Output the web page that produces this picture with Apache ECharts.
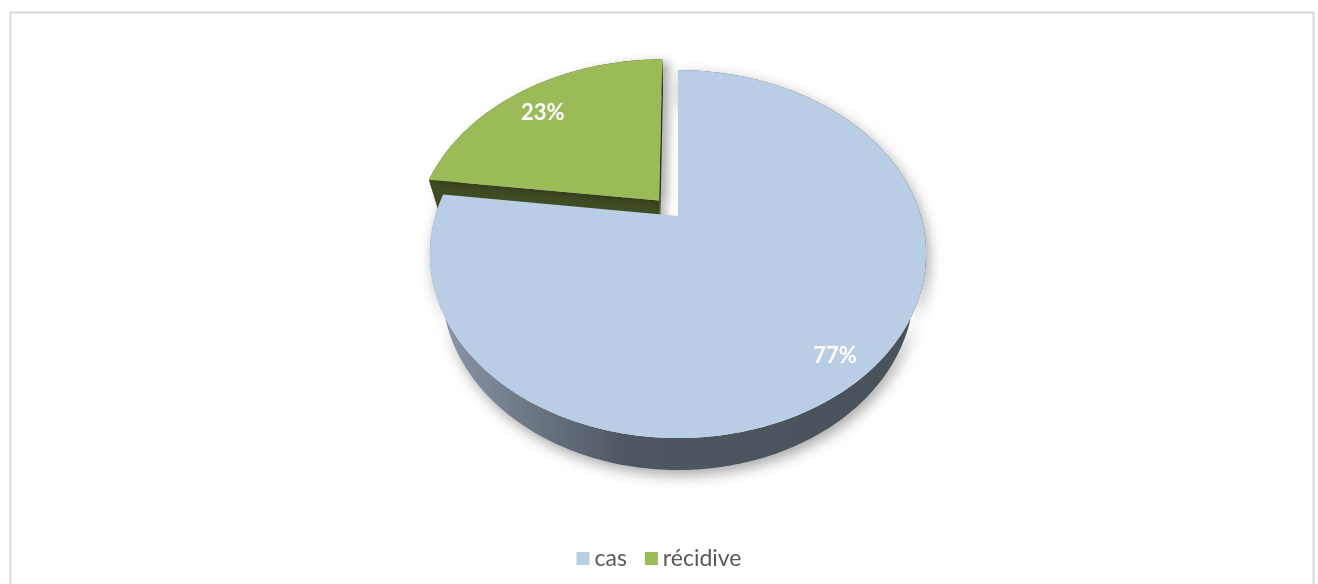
<!DOCTYPE html>
<html><head><meta charset="utf-8">
<script src="https://cdn.jsdelivr.net/npm/echarts@6/dist/echarts.min.js"></script>
<style>html,body{margin:0;padding:0;background:#fff;}#chart{width:1318px;height:584px;}</style>
</head><body><div id="chart"></div>
<script>
// ---- data ----
const categories = ['cas', 'récidive'];
const values = [77, 23];

// ---- styling / view config ----
const topColors = ['#B9CDE5', '#9BBB59'];
const EXPLODE = [0, 0.12];
const LABEL_R = 0.86;
const LABEL_DROP = 0.25;
const VIEW = { tilt: 46.5, dist: 3.332, height: 0.227, scale: 1.385, cx: 0.5144, cy: 0.37 };

function project(X, Y, Z, W, H) {
  const a = VIEW.tilt * Math.PI / 180, s = Math.sin(a), c = Math.cos(a);
  const yc = Y * c - Z * s;
  const zc = VIEW.dist - (Z * c + Y * s);
  const S = VIEW.scale * H;
  return [W * VIEW.cx + S * X / zc, H * VIEW.cy - S * yc / zc];
}

function wallFill(i, W, H) {
  const x0 = W * VIEW.cx - 0.43 * H, x1 = W * VIEW.cx + 0.43 * H;
  if (i === 0) {
    return new echarts.graphic.LinearGradient(x0, 0, x1, 0, [
      { offset: 0, color: '#8F9CAE' },
      { offset: 0.22, color: '#6A7582' },
      { offset: 0.4, color: '#4E5661' },
      { offset: 1, color: '#495159' }
    ], true);
  }
  return '#3F4D23';
}

function renderSlice(params, api) {
  const i = params.seriesIndex;
  const W = api.getWidth(), H = api.getHeight();
  const total = values.reduce((a, b) => a + b, 0);
  const before = values.slice(0, i).reduce((a, b) => a + b, 0);
  const v = api.value(0);
  const a0 = before / total * 2 * Math.PI, a1 = (before + v) / total * 2 * Math.PI;
  const mid = (a0 + a1) / 2, ex = EXPLODE[i];
  const ox = ex * Math.sin(mid), oz = -ex * Math.cos(mid);
  const h = VIEW.height;
  const ta = VIEW.tilt * Math.PI / 180;
  const cam = [0, VIEW.dist * Math.sin(ta), VIEW.dist * Math.cos(ta)];
  const pt = (r, th, y) => project(ox + r * Math.sin(th), y, oz - r * Math.cos(th), W, H);
  const N = Math.max(8, Math.ceil((a1 - a0) / (Math.PI / 180)));
  const topArc = [], botArc = [];
  for (let k = 0; k <= N; k++) {
    const th = a0 + (a1 - a0) * k / N;
    topArc.push(pt(1, th, 0));
    botArc.push(pt(1, th, -h));
  }
  const children = [];
  const sideFill = wallFill(i, W, H);
  children.push({
    type: 'polygon',
    shape: { points: topArc.concat(botArc.slice().reverse()) },
    style: i === 0 ? { fill: sideFill, shadowBlur: 14, shadowColor: 'rgba(0,0,0,0.35)', shadowOffsetX: 3, shadowOffsetY: 5 }
                   : { fill: sideFill }
  });
  const edges = [[a0, [-Math.cos(a0), -Math.sin(a0)]], [a1, [Math.cos(a1), Math.sin(a1)]]];
  edges.forEach(([a, n]) => {
    const dot = n[0] * (cam[0] - ox) + n[1] * (cam[2] - oz);
    if (dot > 1e-6) {
      children.push({
        type: 'polygon',
        shape: { points: [pt(0, a, 0), pt(1, a, 0), pt(1, a, -h), pt(0, a, -h)] },
        style: { fill: i === 0 ? '#4A525B' : '#3F4D23', shadowBlur: 10, shadowColor: 'rgba(0,0,0,0.3)', shadowOffsetX: 5, shadowOffsetY: 3 }
      });
    }
  });
  children.push({
    type: 'polygon',
    shape: { points: [pt(0, 0, 0)].concat(topArc) },
    style: i === 0 ? { fill: api.visual('color') }
                   : { fill: api.visual('color'), shadowBlur: 10, shadowColor: 'rgba(0,0,0,0.3)', shadowOffsetX: 7, shadowOffsetY: 2 }
  });
  const lp = pt(LABEL_R, mid, -h * LABEL_DROP);
  children.push({
    type: 'text', x: lp[0], y: lp[1],
    style: { text: Math.round(v / total * 100) + '%', fill: '#FFFFFF', font: 'bold 22px Lato', align: 'center', verticalAlign: 'middle' }
  });
  return { type: 'group', children };
}

const chart = echarts.init(document.getElementById('chart'), null, { renderer: 'canvas' });
chart.setOption({
  backgroundColor: '#FFFFFF',
  animation: false,
  graphic: [{
    type: 'rect', left: 8, top: 10, silent: true,
    shape: { width: 1303, height: 600 },
    style: { fill: 'none', stroke: '#D9D9D9', lineWidth: 2 }
  }],
  legend: {
    data: categories,
    left: 'center', top: 542,
    icon: 'rect', itemWidth: 13, itemHeight: 13, itemGap: 18,
    textStyle: { color: '#595959', fontSize: 23, fontFamily: 'Lato' },
    selectedMode: false
  },
  series: categories.map((name, i) => ({
    type: 'custom', name, coordinateSystem: 'none',
    data: [[values[i]]],
    itemStyle: { color: topColors[i] },
    z: i === 0 ? 3 : 2,
    silent: true,
    renderItem: renderSlice
  }))
});
</script></body></html>
